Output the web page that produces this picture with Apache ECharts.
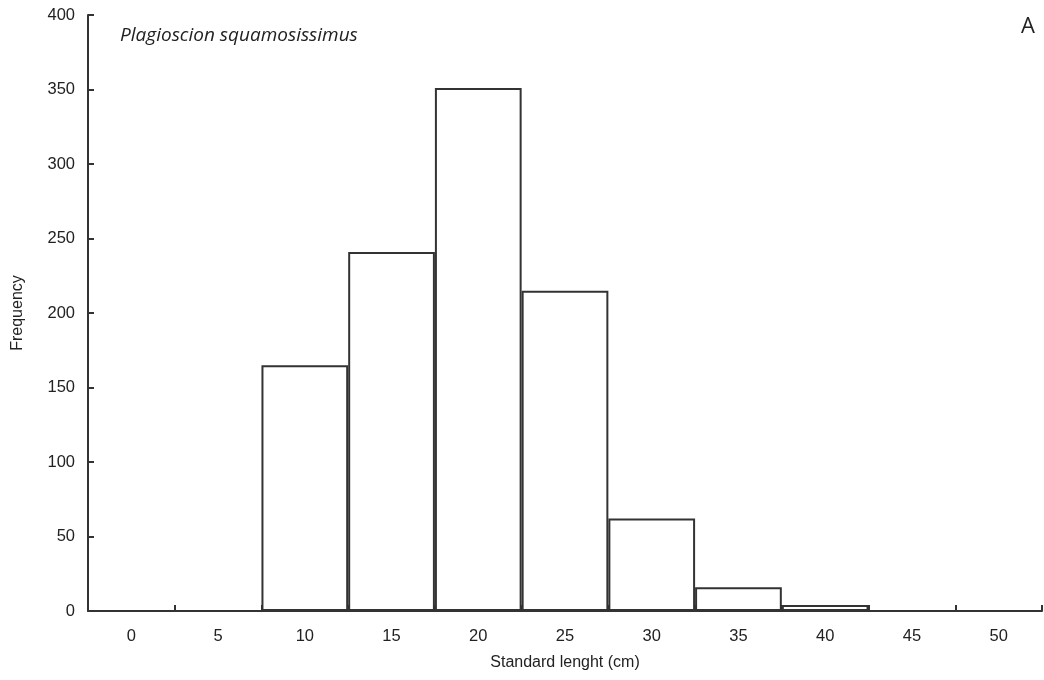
<!DOCTYPE html>
<html><head><meta charset="utf-8">
<script src="https://cdn.jsdelivr.net/npm/echarts@6/dist/echarts.min.js"></script>
<style>html,body{margin:0;padding:0;background:#fff}#c{width:1044px;height:680px}</style>
</head><body><div id="c"></div>
<script>
const categories = ['0','5','10','15','20','25','30','35','40','45','50'];
const frequency = [0, 0, 165, 241, 351, 215, 62, 16, 4, 0, 0];
const yTicks = [0, 50, 100, 150, 200, 250, 300, 350, 400];

const chart = echarts.init(document.getElementById('c'));
const axisColor = '#333';
const font = 'Liberation Sans, Arial, sans-serif';
chart.setOption({
  animation: false,
  backgroundColor: '#fff',
  grid: { left: 88, right: 2, top: 15, bottom: 69, containLabel: false },
  title: [
    { text: 'Plagioscion squamosissimus', left: 115, top: 21,
      textStyle: { fontFamily: 'Open Sans, sans-serif', fontStyle: 'italic', fontWeight: 'normal', fontSize: 19, color: '#222' } },
    { text: 'A', right: 4, top: 11,
      textStyle: { fontFamily: 'Open Sans, sans-serif', fontWeight: 'normal', fontSize: 22, color: '#222' } }
  ],
  xAxis: {
    type: 'category',
    data: categories,
    boundaryGap: true,
    name: 'Standard lenght (cm)',
    nameLocation: 'middle',
    nameGap: 44,
    nameTextStyle: { fontFamily: font, fontSize: 16, color: '#222' },
    axisLine: { lineStyle: { color: axisColor, width: 2 } },
    axisTick: { show: true, inside: true, length: 6, lineStyle: { color: axisColor, width: 2 } },
    axisLabel: { fontFamily: font, fontSize: 16.5, color: '#222', margin: 17 },
    splitLine: { show: false }
  },
  yAxis: {
    type: 'value',
    min: yTicks[0],
    max: yTicks[yTicks.length - 1],
    interval: 50,
    name: 'Frequency',
    nameLocation: 'middle',
    nameGap: 62,
    nameRotate: 90,
    nameTextStyle: { fontFamily: font, fontSize: 16, color: '#222' },
    axisLine: { show: true, lineStyle: { color: axisColor, width: 2 } },
    axisTick: { show: true, inside: true, length: 6, lineStyle: { color: axisColor, width: 2 } },
    axisLabel: { fontFamily: font, fontSize: 16.5, color: '#222', margin: 13 },
    splitLine: { show: false }
  },
  series: [{
    type: 'bar',
    data: frequency,
    barCategoryGap: '0%',
    itemStyle: { color: '#fff', borderColor: axisColor, borderWidth: 2 },
    z: 1
  }]
});
</script></body></html>
